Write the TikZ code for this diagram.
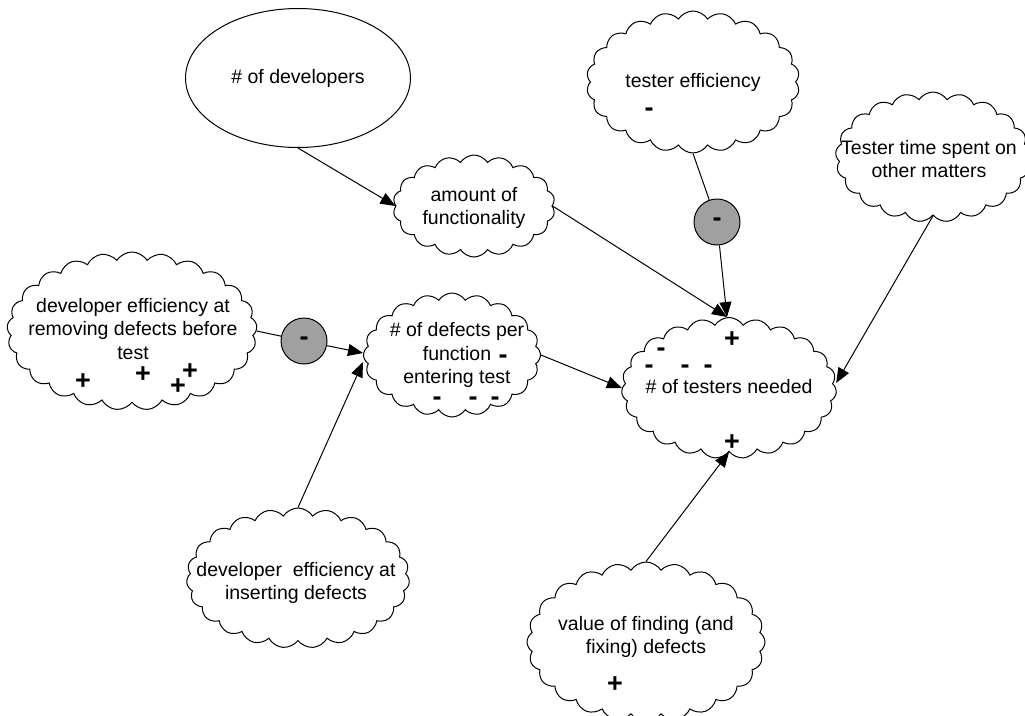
\documentclass[tikz,border=0pt]{standalone}
\usepackage{fontspec}
\setmainfont{Liberation Sans}
\usetikzlibrary{shapes.symbols,shapes.geometric,arrows.meta}
\definecolor{circgray}{RGB}{160,160,160}
\newcommand{\txtfont}{\fontsize{19.5}{23.5}\selectfont}
\newcommand{\sgnfont}{\fontsize{27}{27}\selectfont\bfseries}
\begin{document}
\begin{tikzpicture}[x=1pt,y=-1pt,
  line width=1pt,
  cl/.style={cloud, draw, cloud puffs=#1, cloud puff arc=115, cloud ignores aspect, inner sep=0pt, fill=white},
  cl/.default=22,
  txt/.style={font=\txtfont, align=center, inner sep=0pt},
  sgn/.style={font=\sgnfont, inner sep=0pt},
  neg/.style={circle, draw, fill=circgray, minimum size=46pt, inner sep=0pt, font=\sgnfont},
  arr/.style={-{Triangle[length=15pt,width=12pt]}},
  ln/.style={-}
]
\useasboundingbox (0,0) rectangle (1025,715);

% nodes
\node[ellipse, draw, minimum width=225pt, minimum height=139pt] (dev) at (298,78) {};
\node[txt] (devt) at (298,78) {\# of developers};

\node[cl=18, minimum width=162pt, minimum height=102pt] (amt) at (474,206) {};
\node[txt] (amtt) at (474,208) {amount of\\functionality};

\node[cl=22, minimum width=213pt, minimum height=142pt] (teff) at (693,82) {};
\node[txt] (tefft) at (693,82) {tester efficiency};
\node[sgn] (teffs) at (649,112) {-};

\node[cl=21, minimum width=195pt, minimum height=130pt] (ttime) at (933,157) {};
\node[txt] (ttimet) at (929,159) {Tester time spent on\\other matters};

\node[cl=25, minimum width=250pt, minimum height=158pt] (devrm) at (132,331) {};
\node[txt] (devrmt) at (133,329) {developer efficiency at\\removing defects before\\test};
\node[sgn] (p1) at (83,382) {+};
\node[sgn] (p2) at (143,375) {+};
\node[sgn] (p3) at (178,387) {+};
\node[sgn] (p4) at (190,372) {+};

\node[neg] (c1) at (304,341) {-};

\node[cl=20, minimum width=177pt, minimum height=124pt] (def) at (452,355) {};
\node[txt] (deft) at (457,355) {\# of defects per\\function\\entering test};
\node[sgn] (d0) at (503,359) {-};
\node[sgn] (d1) at (437,401) {-};
\node[sgn] (d2) at (473,401) {-};
\node[sgn] (d3) at (495,401) {-};

\node[cl=23, minimum width=215pt, minimum height=141pt] (tst) at (729,388) {};
\node[txt] (tstt) at (729,387) {\# of testers needed};
\node[sgn] (t1) at (732,340) {+};
\node[sgn] (t2) at (661,352) {-};
\node[sgn] (t3) at (649,369) {-};
\node[sgn] (t4) at (685,369) {-};
\node[sgn] (t5) at (708,369) {-};
\node[sgn] (t6) at (732,443) {+};

\node[neg] (c2) at (717,222) {-};

\node[cl=23, minimum width=223pt, minimum height=140pt] (dins) at (298,578) {};
\node[txt] (dinst) at (296,583) {developer\ \ efficiency at\\inserting defects};

\node[cl=24, minimum width=238pt, minimum height=160pt] (val) at (646,642) {};
\node[txt] (valt) at (646,637) {value of finding (and\\fixing) defects};
\node[sgn] (v1) at (615,685) {+};

% connectors
\draw[arr] (dev.south) -- (amt.west);
\draw[arr] (amt.east) -- ([xshift=-2pt]tst.north);
\draw[ln] (teff.south) -- (c2);
\draw[arr] (c2) -- ([xshift=-2pt]tst.north);
\draw[ln] (devrm.east) -- (c1);
\draw[arr] (c1) -- ([yshift=2pt]def.west);
\draw[arr] (dins.north) -- ([yshift=-7pt]def.west);
\draw[arr] (def.east) -- (tst.west);
\draw[arr] (ttime.south) -- ([yshift=5pt]tst.east);
\draw[arr] (val.north) -- (tst.south);
\end{tikzpicture}
\end{document}
